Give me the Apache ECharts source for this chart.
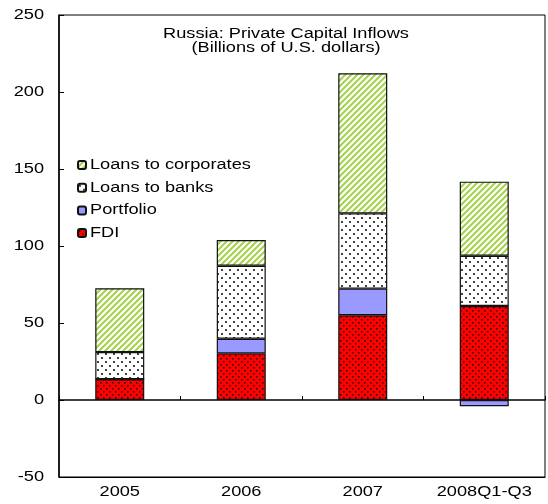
<!DOCTYPE html>
<html>
<head>
<meta charset="utf-8">
<script src="https://cdn.jsdelivr.net/npm/echarts@6/dist/echarts.min.js"></script>
<style>
  html, body { margin: 0; padding: 0; background: #fff; }
  #chart { width: 548px; height: 504px; }
</style>
</head>
<body>
<div id="chart"></div>
<script>
// Russia: private capital inflows, billions of U.S. dollars
const categories = ['2005', '2006', '2007', '2008Q1-Q3'];
const fdi = [13.5, 30.3, 55.0, 61.0];
const portfolio = [0, 9.5, 17.3, -4.0];
const loansToBanks = [17.6, 47.4, 48.9, 32.7];
const loansToCorporates = [41.5, 16.7, 91.0, 48.1];
const yTicks = { min: -50, max: 250, step: 50 };

const FONT = '"Liberation Sans", Arial, sans-serif';

// Wide-set lettering: draw every text run stretched horizontally about its anchor
const TEXT_STRETCH = 1.3;
(function () {
  const proto = CanvasRenderingContext2D.prototype;
  const fill = proto.fillText;
  proto.fillText = function (text, x, y, maxWidth) {
    this.save();
    this.translate(x, y);
    this.scale(TEXT_STRETCH, 1);
    if (maxWidth === undefined) fill.call(this, text, 0, 0);
    else fill.call(this, text, 0, 0, maxWidth / TEXT_STRETCH);
    this.restore();
  };
})();

// Fill patterns drawn on small tiles
function tile(size, draw) {
  const c = document.createElement('canvas');
  c.width = size; c.height = size;
  const ctx = c.getContext('2d');
  draw(ctx, size);
  return { image: c, repeat: 'repeat' };
}
const stripes = tile(6, (ctx, s) => {
  ctx.fillStyle = '#fff'; ctx.fillRect(0, 0, s, s);
  ctx.strokeStyle = '#a4d24a'; ctx.lineWidth = 2;
  ctx.beginPath();
  ctx.moveTo(-1, s + 1); ctx.lineTo(s + 1, -1);
  ctx.moveTo(-1, 1); ctx.lineTo(1, -1);
  ctx.moveTo(s - 1, s + 1); ctx.lineTo(s + 1, s - 1);
  ctx.stroke();
});
const whiteDots = tile(8, (ctx, s) => {
  ctx.fillStyle = '#fff'; ctx.fillRect(0, 0, s, s);
  ctx.fillStyle = '#444';
  ctx.fillRect(1, 1, 2, 2);
  ctx.fillRect(5, 5, 2, 2);
});
const redDots = tile(6, (ctx, s) => {
  ctx.fillStyle = '#ff0000'; ctx.fillRect(0, 0, s, s);
  ctx.fillStyle = '#331010';
  ctx.fillRect(1, 1, 1.6, 1.6);
  ctx.fillRect(4, 4, 1.6, 1.6);
});

const border = { borderColor: '#111', borderWidth: 1.2 };
function barSeries(name, data, color) {
  return {
    name, type: 'bar', stack: 'total', data,
    barWidth: 49,
    itemStyle: Object.assign({ color }, border),
    emphasis: { disabled: true }
  };
}

const chart = echarts.init(document.getElementById('chart'), null, { renderer: 'canvas' });

const txt = { fontFamily: FONT, fontSize: 14, color: '#000' };
chart.setOption({
  animation: false,
  backgroundColor: '#fff',
  textStyle: { fontFamily: FONT },
  title: {
    text: 'Russia: Private Capital Inflows\n(Billions of U.S. dollars)',
    left: 281, top: 22, textAlign: 'center',
    textStyle: Object.assign({ fontWeight: 'normal', lineHeight: 14 }, txt)
  },
  legend: {
    orient: 'vertical', left: 72, top: 153,
    itemWidth: 8, itemHeight: 8, itemGap: 8.7,
    data: ['Loans to corporates', 'Loans to banks', 'Portfolio', 'FDI'],
    textStyle: Object.assign({ lineHeight: 14, padding: [0, 0, 0, -1] }, txt),
    selectedMode: false
  },
  grid: {
    left: 59, right: 3, top: 15, bottom: 27,
    show: true, borderColor: '#000', borderWidth: 1, backgroundColor: 'transparent'
  },
  xAxis: [
    {
      type: 'category', data: categories, position: 'bottom',
      axisLine: { onZero: false, lineStyle: { color: '#000', width: 1 } },
      axisTick: { show: false },
      axisLabel: Object.assign({ margin: 8 }, txt)
    },
    {
      type: 'category', data: categories, position: 'top',
      axisLine: { onZero: true, lineStyle: { color: '#000', width: 1.5 } },
      axisTick: { show: true, inside: false, length: 4, lineStyle: { color: '#000' } },
      axisLabel: { show: false }
    }
  ],
  yAxis: {
    type: 'value', min: yTicks.min, max: yTicks.max, interval: yTicks.step,
    axisLine: { show: true, lineStyle: { color: '#000', width: 1.5 } },
    axisTick: { show: true, inside: true, length: 5, lineStyle: { color: '#000' } },
    axisLabel: Object.assign({ margin: 15 }, txt),
    splitLine: { show: false }
  },
  series: [
    barSeries('FDI', fdi, redDots),
    barSeries('Portfolio', portfolio, '#9999ff'),
    barSeries('Loans to banks', loansToBanks, whiteDots),
    barSeries('Loans to corporates', loansToCorporates, stripes)
  ]
});
</script>
</body>
</html>
